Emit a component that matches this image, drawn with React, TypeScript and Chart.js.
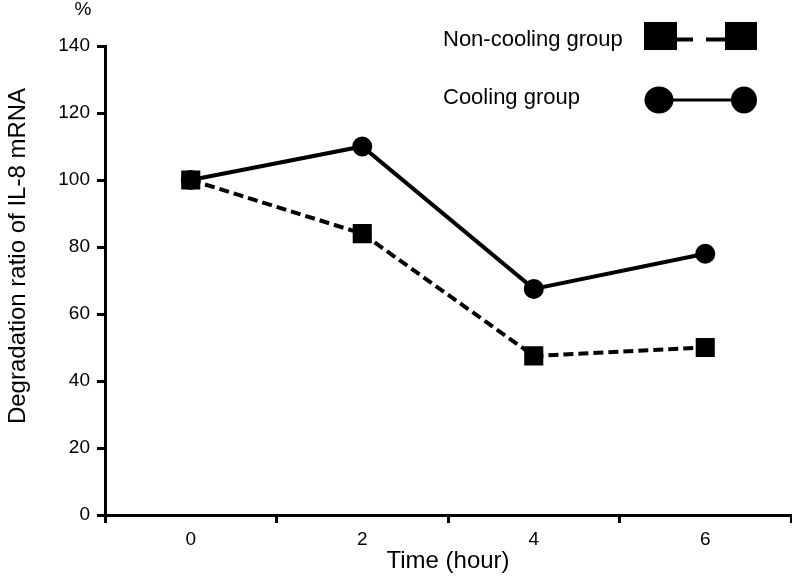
import React, { useEffect, useRef } from "react";
import { Chart, registerables } from "chart.js";

Chart.register(...registerables);

const timeLabels = ["0", "2", "4", "6"];
const nonCooling = [100, 84, 47.5, 50];
const cooling = [100, 110, 67.5, 78];
const yTitle = "Degradation ratio of IL-8 mRNA";
const xTitle = "Time (hour)";
const unitLabel = "%";
const legendNames = ["Non-cooling group", "Cooling group"];

const FONT = "'Liberation Sans', Arial, Helvetica, sans-serif";

const decorPlugin = {
  id: "decor",
  afterDraw(chart: any) {
    const ctx = chart.ctx;
    ctx.save();
    ctx.fillStyle = "#000";
    ctx.strokeStyle = "#000";
    // unit label
    ctx.font = `19px ${FONT}`;
    ctx.textAlign = "center";
    ctx.textBaseline = "alphabetic";
    ctx.fillText(unitLabel, 83, 15);
    // y title
    ctx.save();
    ctx.translate(18, 256);
    ctx.rotate(-Math.PI / 2);
    ctx.font = `24px ${FONT}`;
    ctx.textAlign = "center";
    ctx.textBaseline = "middle";
    ctx.fillText(yTitle, 0, 0);
    ctx.restore();
    // legend
    ctx.font = `22px ${FONT}`;
    ctx.textAlign = "left";
    ctx.textBaseline = "alphabetic";
    ctx.fillText(legendNames[0], 443, 46);
    ctx.fillText(legendNames[1], 443, 104);
    // non-cooling symbol
    ctx.fillRect(644, 22, 33, 28);
    ctx.fillRect(725, 22, 32, 28);
    ctx.lineWidth = 4;
    ctx.beginPath();
    ctx.moveTo(677, 39.5);
    ctx.lineTo(693, 39.5);
    ctx.moveTo(706, 39.5);
    ctx.lineTo(725, 39.5);
    ctx.stroke();
    // cooling symbol
    ctx.lineWidth = 3;
    ctx.beginPath();
    ctx.moveTo(660, 100);
    ctx.lineTo(744, 100);
    ctx.stroke();
    ctx.beginPath();
    ctx.ellipse(659, 100, 14.5, 13.5, 0, 0, Math.PI * 2);
    ctx.fill();
    ctx.beginPath();
    ctx.ellipse(744, 100, 13, 13.5, 0, 0, Math.PI * 2);
    ctx.fill();
    ctx.restore();
  },
};

export default function App() {
  const ref = useRef<HTMLCanvasElement | null>(null);
  useEffect(() => {
    if (!ref.current) return;
    const chart = new Chart(ref.current, {
      type: "line",
      data: {
        labels: timeLabels,
        datasets: [
          {
            label: legendNames[0],
            data: nonCooling,
            borderColor: "#000",
            backgroundColor: "#000",
            borderWidth: 4,
            borderDash: [10, 5],
            pointStyle: "rect",
            pointRadius: 13.5,
            pointHoverRadius: 13.5,
            pointBorderWidth: 0,
            tension: 0,
            order: 0,
          },
          {
            label: legendNames[1],
            data: cooling,
            borderColor: "#000",
            backgroundColor: "#000",
            borderWidth: 4,
            pointStyle: "circle",
            pointRadius: 10,
            pointHoverRadius: 10,
            pointBorderWidth: 0,
            tension: 0,
            order: 1,
          },
        ],
      },
      options: {
        animation: false,
        responsive: false,
        devicePixelRatio: 1,
        layout: { autoPadding: false, padding: { top: 46, right: 1, left: 0, bottom: 0 } },
        plugins: { legend: { display: false }, tooltip: { enabled: false } },
        scales: {
          x: {
            type: "category",
            offset: true,
            grid: {
              offset: true,
              drawOnChartArea: false,
              drawTicks: true,
              tickLength: 8,
              tickWidth: 3,
              color: "#000",
            },
            border: { display: true, width: 3, color: "#000" },
            ticks: { color: "#000", font: { family: FONT, size: 19 }, padding: 5 },
            title: {
              display: true,
              text: xTitle,
              color: "#000",
              font: { family: FONT, size: 24 },
              padding: { top: 3, bottom: 0 },
            },
            afterFit: (s: any) => {
              s.height = 61;
              s.paddingLeft = 0;
              s.paddingRight = 0;
            },
          },
          y: {
            min: 0,
            max: 140,
            ticks: {
              stepSize: 20,
              color: "#000",
              font: { family: FONT, size: 19 },
              padding: 7,
            },
            grid: {
              drawOnChartArea: false,
              drawTicks: true,
              tickLength: 8,
              tickWidth: 3,
              color: "#000",
            },
            border: { display: true, width: 3, color: "#000" },
            afterFit: (s: any) => {
              s.width = 105;
            },
          },
        },
      },
      plugins: [decorPlugin],
    } as any);
    return () => chart.destroy();
  }, []);
  return (
    <div style={{ position: "absolute", left: 0, top: 0, width: 792, height: 576, background: "#fff" }}>
      <canvas ref={ref} width={792} height={576} style={{ width: 792, height: 576, display: "block" }} />
    </div>
  );
}
